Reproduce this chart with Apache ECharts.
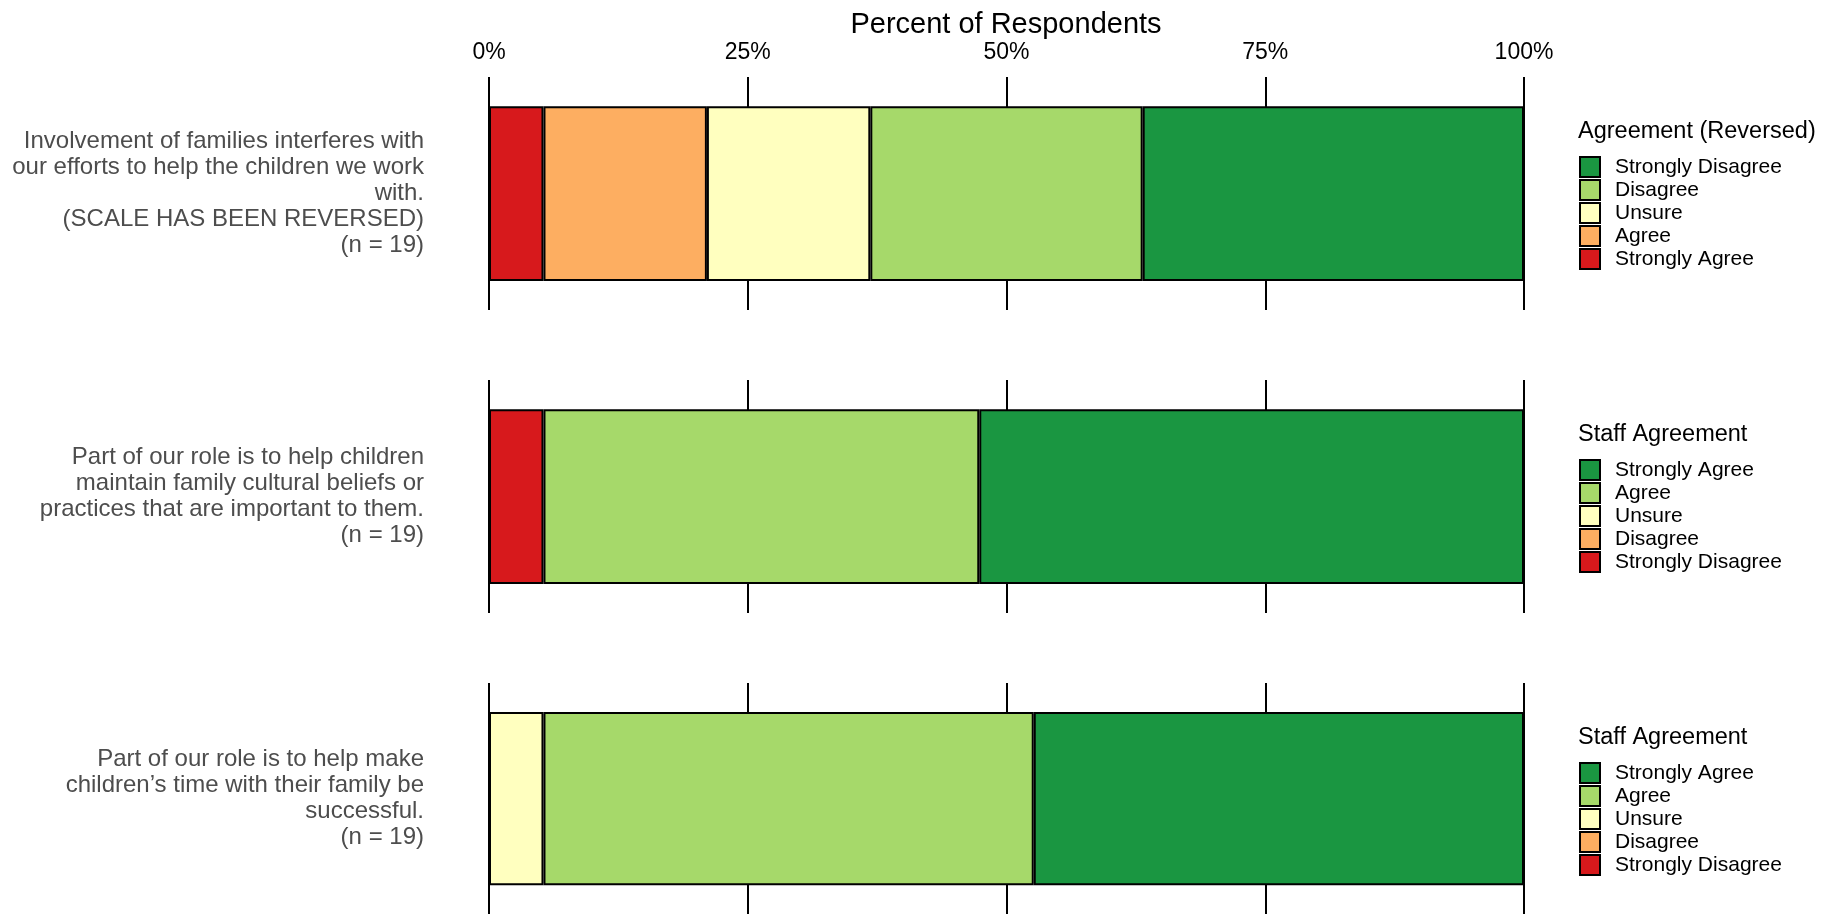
<!DOCTYPE html>
<html>
<head>
<meta charset="utf-8">
<script src="https://cdn.jsdelivr.net/npm/echarts@6/dist/echarts.min.js"></script>
<style>
html,body{margin:0;padding:0;background:#fff;}
#chart{width:1823px;height:914px;}
</style>
</head>
<body>
<div id="chart"></div>
<script>
// ---- data ----
const questions = [
  "Involvement of families interferes with\nour efforts to help the children we work\nwith.\n(SCALE HAS BEEN REVERSED)\n(n = 19)",
  "Part of our role is to help children\nmaintain family cultural beliefs or\npractices that are important to them.\n(n = 19)",
  "Part of our role is to help make\nchildren\u2019s time with their family be\nsuccessful.\n(n = 19)"
];
const legendTitles = ["Agreement (Reversed)", "Staff Agreement", "Staff Agreement"];
const nRespondents = [19, 19, 19];
// response levels in stacking order (left to right)
const levelsReversed = ["Strongly Agree", "Agree", "Unsure", "Disagree", "Strongly Disagree"];
const levelsNormal = ["Strongly Disagree", "Disagree", "Unsure", "Agree", "Strongly Agree"];
const panelLevels = [levelsReversed, levelsNormal, levelsNormal];
// respondent counts per level (same order as levels)
const counts1 = [1, 3, 3, 5, 7];
const counts2 = [1, 0, 0, 8, 10];
const counts3 = [0, 0, 1, 9, 9];
const panelCounts = [counts1, counts2, counts3];
const xTicks = [0, 25, 50, 75, 100];
const levelColors = ["#d7191c", "#fdae61", "#ffffbf", "#a6d96a", "#1a9641"];

// ---- layout ----
const FONT = "'Liberation Sans', Arial, sans-serif";
const gridTops = [77, 380, 683];
const gridH = 233;
const gridLeft = 489, gridRight = 299;

const grids = [], xAxes = [], yAxes = [], series = [], legends = [], titles = [];

titles.push({
  text: "Percent of Respondents",
  left: 1006, top: 8, textAlign: "center", padding: 0,
  textStyle: {fontFamily: FONT, fontSize: 29, fontWeight: "normal", color: "#000", lineHeight: 34}
});

panelCounts.forEach((cnts, p) => {
  grids.push({left: gridLeft, right: gridRight, top: gridTops[p], height: gridH});
  xAxes.push({
    type: "value", gridIndex: p, min: xTicks[0], max: xTicks[xTicks.length - 1], interval: 25,
    position: "top",
    axisLine: {show: false}, axisTick: {show: false},
    axisLabel: {
      show: p === 0, margin: 13, formatter: v => v + "%",
      fontFamily: FONT, fontSize: 23, color: "#000"
    },
    splitLine: {show: true, showMinLine: true, showMaxLine: true, lineStyle: {color: "#000", width: 2}}
  });
  yAxes.push({
    type: "category", gridIndex: p, data: [questions[p]],
    axisLine: {show: false}, axisTick: {show: false}, splitLine: {show: false},
    axisLabel: {
      margin: 65, align: "right", fontFamily: FONT, fontSize: 24, lineHeight: 26, color: "#4d4d4d",
      padding: [3, 0, 0, 0]
    }
  });
  const names = [];
  panelLevels[p].forEach((lvl, k) => {
    const nm = "p" + p + "|" + lvl;
    names.push(nm);
    const c = cnts[k];
    series.push({
      name: nm, type: "bar", xAxisIndex: p, yAxisIndex: p, stack: "s" + p,
      barWidth: "75%",
      data: [c > 0 ? c / nRespondents[p] * 100 : null],
      itemStyle: {color: levelColors[k], borderColor: "#000", borderWidth: 2},
      emphasis: {disabled: true}
    });
  });
  titles.push({
    text: legendTitles[p], left: 1578, top: gridTops[p] + 55 - 14, padding: 0,
    textStyle: {fontFamily: FONT, fontSize: 23.5, fontWeight: "normal", color: "#000", lineHeight: 28}
  });
  legends.push({
    orient: "vertical", left: 1579, top: gridTops[p] + 89 - 10, padding: 0,
    itemWidth: 20, itemHeight: 20, itemGap: 1, icon: "rect",
    selectedMode: false,
    data: names.slice().reverse(),
    formatter: n => n.split("|")[1],
    itemStyle: {borderColor: "#000", borderWidth: 2},
    textStyle: {fontFamily: FONT, fontSize: 21, color: "#000", padding: [0, 0, 0, 10]}
  });
});

const chart = echarts.init(document.getElementById("chart"), null, {renderer: "canvas"});
chart.setOption({
  animation: false,
  backgroundColor: "#fff",
  title: titles, grid: grids, xAxis: xAxes, yAxis: yAxes, legend: legends, series: series
});
</script>
</body>
</html>
